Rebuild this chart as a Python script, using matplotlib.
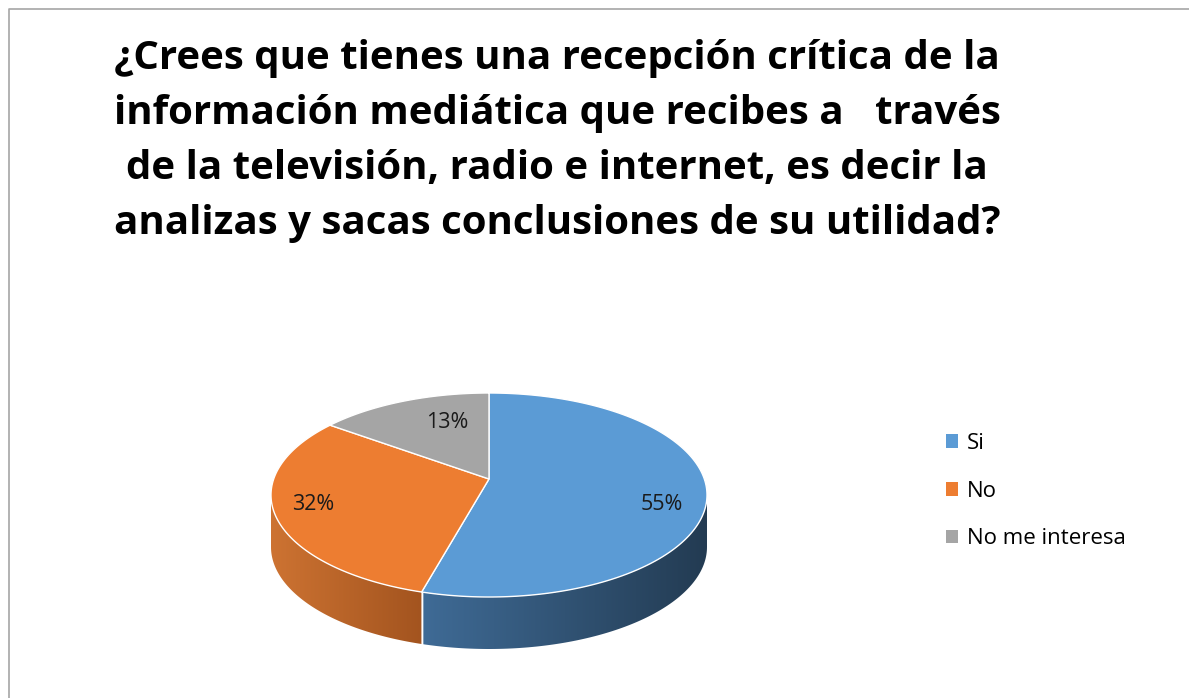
import numpy as np
import matplotlib.pyplot as plt
from matplotlib.patches import Polygon, Patch
from matplotlib.colors import LinearSegmentedColormap

# data
categories = ['Si', 'No', 'No me interesa']
values = [55, 32, 13]
labels = ['55%', '32%', '13%']
colors = ['#5B9BD5', '#ED7D31', '#A5A5A5']
side_colors = [('#3F6B96', '#233B52'), ('#CD7332', '#A3541F'), ('#8A8A8A', '#6E6E6E')]
title_lines = ['¿Crees que tienes una recepción crítica de la',
               'información mediática que recibes a   través',
               'de la televisión, radio e internet, es decir la',
               'analizas y sacas conclusiones de su utilidad?']

W, H = 1189, 698
fig = plt.figure(figsize=(W / 100, H / 100), dpi=100)
ax = fig.add_axes([0, 0, 1, 1])
ax.set_xlim(0, W)
ax.set_ylim(H, 0)
ax.axis('off')

# chart border (only top and left visible in the crop)
ax.plot([9, 9, W + 5], [H + 5, 9, 9], color='#A6A6A6', lw=1.2)

# pie geometry (pixel space)
cx, cy = 489, 495      # ellipse centre
ax0, ay0 = 489, 479    # apex of slices
rx, ry = 218, 102
depth = 52


def pt(t):
    t = np.radians(t)
    return cx + rx * np.sin(t), cy - ry * np.cos(t)


fracs = np.array(values) / np.sum(values)
bounds = np.concatenate([[0], np.cumsum(fracs) * 360])

# side walls (front half: 90..270 deg clockwise from top)
for i in range(len(values)):
    t0, t1 = bounds[i], bounds[i + 1]
    s0, s1 = max(t0, 90), min(t1, 270)
    if s1 <= s0:
        continue
    ts = np.linspace(s0, s1, 100)
    xs, ys = pt(ts)
    poly = np.vstack([np.column_stack([xs, ys]),
                      np.column_stack([xs[::-1], ys[::-1] + depth])])
    patch = Polygon(poly, closed=True, facecolor='none', edgecolor='none')
    ax.add_patch(patch)
    x_lo, x_hi = xs.min(), xs.max()
    cmap = LinearSegmentedColormap.from_list('s%d' % i, side_colors[i])
    grad = np.linspace(0, 1, 256).reshape(1, -1)
    im = ax.imshow(grad, cmap=cmap, aspect='auto',
                   extent=[x_lo, x_hi, ys.max() + depth, ys.min()], zorder=1)
    im.set_clip_path(patch)
    # white vertical seam at slice boundaries on the front
    for b in (t0, t1):
        if 90 < b < 270:
            bx, by = pt(b)
            ax.plot([bx, bx], [by, by + depth], color='white', lw=1, zorder=2)

# top faces
for i in range(len(values)):
    ts = np.linspace(bounds[i], bounds[i + 1], 200)
    xs, ys = pt(ts)
    poly = np.vstack([[ax0, ay0], np.column_stack([xs, ys])])
    ax.add_patch(Polygon(poly, closed=True, facecolor=colors[i],
                         edgecolor='white', lw=1, zorder=3))

# data labels
label_pos = [(662, 505), (313, 505), (447, 423)]
for lab, (lx, ly) in zip(labels, label_pos):
    ax.text(lx, ly, lab, fontsize=15.5, family='Open Sans', color='#1a1a1a',
            ha='center', va='center', zorder=4)

# title
title_y = [69, 124, 179, 234]
for line, ty in zip(title_lines, title_y):
    ax.text(557, ty, line, fontsize=29, fontweight='bold', family='Open Sans',
            ha='center', va='baseline', color='black')

# legend
handles = [Patch(facecolor=c, edgecolor='none') for c in colors]
fig.legend(handles, categories, loc='upper left',
           bbox_to_anchor=(926 / W, 1 - 413 / H), frameon=False,
           prop={'family': 'Open Sans', 'size': 16},
           handlelength=0.55, handleheight=0.55, handletextpad=0.4,
           labelspacing=1.2)

fig.savefig('out.png', dpi=100)
